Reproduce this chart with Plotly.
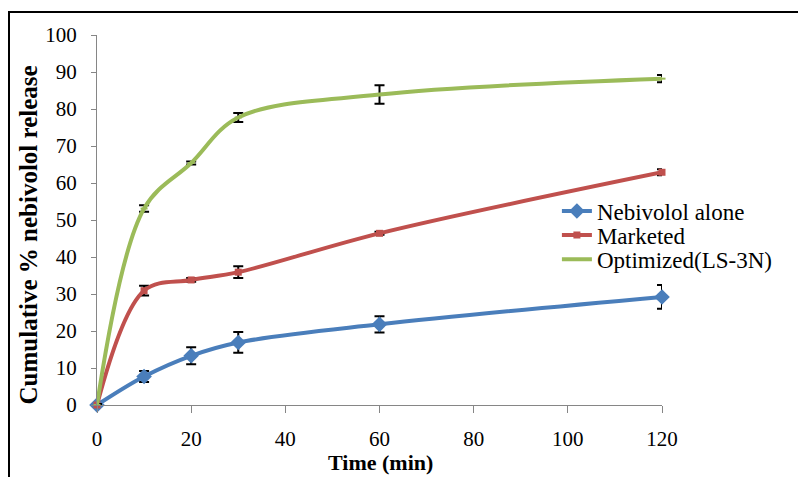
import plotly.graph_objects as go

time_min = [0, 10, 20, 30, 60, 120]
nebivolol_alone = [0, 7.7, 13.3, 16.9, 21.8, 29.2]
nebivolol_err = [0.5, 1.5, 2.3, 2.8, 2.2, 3.2]
marketed = [0, 30.9, 33.8, 35.9, 46.4, 62.9]
marketed_err = [0.3, 1.3, 0.5, 1.6, 0.4, 0.8]
optimized = [0, 53.1, 65.4, 77.7, 83.9, 88.2]
optimized_err = [0.3, 0.9, 0.4, 1.2, 2.5, 1.0]

x_ticks = [0, 20, 40, 60, 80, 100, 120]
y_ticks = list(range(0, 101, 10))

FONT = "Liberation Serif"

series = [
    ("Nebivolol alone", nebivolol_alone, nebivolol_err, "#4A7EBB", "diamond", 12, "legend"),
    ("Marketed", marketed, marketed_err, "#C0504D", "square", 7, "legend2"),
    ("Optimized(LS-3N)", optimized, optimized_err, "#9BBB59", "line-ew", 5, "legend3"),
]

fig = go.Figure()
for name, vals, errs, color, sym, msize, leg in series:
    fig.add_trace(go.Scatter(
        x=time_min, y=vals, name=name, mode="lines+markers", legend=leg,
        cliponaxis=False,
        line=dict(color=color, width=4, shape="spline", smoothing=1.0),
        marker=dict(symbol=sym, size=msize, color=color,
                    line=dict(color=color, width=2 if sym == "line-ew" else 0)),
        error_y=dict(type="data", array=errs, visible=True, color="black",
                     thickness=2, width=5),
    ))

leg_common = dict(x=0.814, xanchor="left", yanchor="middle",
                  font=dict(family=FONT, size=23, color="black"),
                  bgcolor="rgba(0,0,0,0)", itemwidth=30)

fig.update_layout(
    width=798, height=477,
    margin=dict(l=97, r=136, t=35, b=72),
    paper_bgcolor="white", plot_bgcolor="white",
    font=dict(family=FONT, color="black", size=20),
    showlegend=True,
    legend=dict(y=0.524, **leg_common),
    legend2=dict(y=0.459, **leg_common),
    legend3=dict(y=0.394, **leg_common),
    xaxis=dict(range=[0, 120], tickvals=x_ticks, ticktext=[str(v) for v in x_ticks],
               showgrid=False, zeroline=False, showline=True, linecolor="#868686",
               linewidth=1, ticks="outside", ticklen=7, tickcolor="#868686",
               tickfont=dict(family=FONT, size=21), ticklabelstandoff=8),
    yaxis=dict(range=[0, 100], tickvals=y_ticks, ticktext=[str(v) for v in y_ticks],
               showgrid=False, zeroline=False, showline=True, linecolor="#868686",
               linewidth=1, ticks="outside", ticklen=5, tickcolor="#868686",
               tickfont=dict(family=FONT, size=21), ticklabelstandoff=10),
)

fig.add_annotation(text="<b>Time (min)</b>", xref="paper", yref="paper",
                   x=0.501, y=-0.156, xanchor="center", yanchor="middle", showarrow=False,
                   font=dict(family=FONT, size=22, color="black"))
fig.add_annotation(text="<b>Cumulative % nebivolol release</b>", xref="paper", yref="paper",
                   x=-0.121, y=0.46, xanchor="center", yanchor="middle", showarrow=False,
                   textangle=-90, font=dict(family=FONT, size=25, color="black"))

# outer frame (left and top edges)
fig.add_shape(type="line", xref="paper", yref="paper",
              x0=(9 - 97) / 565, x1=(9 - 97) / 565, y0=(405 - 12) / 370, y1=-0.3,
              line=dict(color="black", width=2))
fig.add_shape(type="line", xref="paper", yref="paper",
              x0=(8 - 97) / 565, x1=1.4, y0=(405 - 12) / 370, y1=(405 - 12) / 370,
              line=dict(color="black", width=2))

fig.write_html("out.html")
